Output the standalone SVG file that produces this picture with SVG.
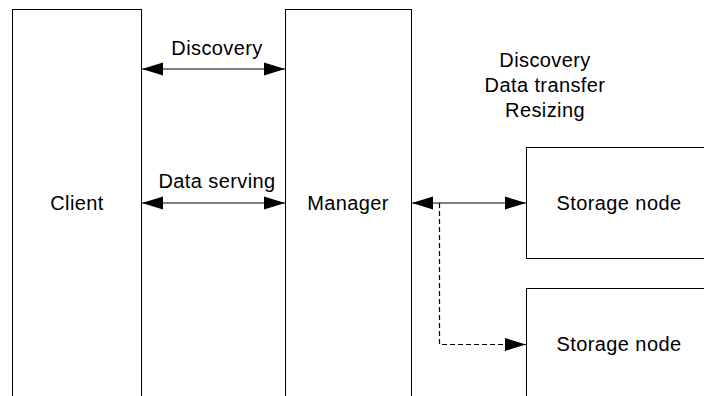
<svg xmlns="http://www.w3.org/2000/svg" width="704" height="396" viewBox="0 0 704 396">
<style>
.box{fill:#fff;stroke:#000;stroke-width:1}
.lbl{font-family:"Liberation Sans",Arial,sans-serif;font-size:20px;letter-spacing:0.4px;fill:#000;text-anchor:middle}
.ln{fill:none;stroke:#000;stroke-width:1.2}
.dash{fill:none;stroke:#000;stroke-width:1.2;stroke-dasharray:5,3}
</style>
<defs>
<marker id="ah" markerUnits="userSpaceOnUse" markerWidth="22" markerHeight="14" viewBox="0 0 22 14" refX="21" refY="7" orient="auto-start-reverse">
<path d="M0,0.5 L21,7 L0,13.5 Z" fill="#000"/>
</marker>
</defs>
<g id="client">
<rect class="box" x="12.5" y="9.5" width="129" height="400"/>
<text class="lbl" x="77" y="210">Client</text>
</g>
<g id="manager">
<rect class="box" x="285.5" y="9.5" width="126" height="400"/>
<text class="lbl" x="348" y="210">Manager</text>
</g>
<g id="storage1">
<rect class="box" x="526.5" y="147.5" width="200" height="111"/>
<text class="lbl" x="619" y="210">Storage node</text>
</g>
<g id="storage2">
<rect class="box" x="526.5" y="288.5" width="200" height="130"/>
<text class="lbl" x="619" y="351">Storage node</text>
</g>
<g id="connectors">
<line class="ln" x1="142" y1="69" x2="285" y2="69" marker-start="url(#ah)" marker-end="url(#ah)"/>
<line class="ln" x1="142" y1="203" x2="285" y2="203" marker-start="url(#ah)" marker-end="url(#ah)"/>
<line class="ln" x1="412" y1="203" x2="526" y2="203" marker-start="url(#ah)" marker-end="url(#ah)"/>
<path class="dash" d="M439.5,203 L439.5,344.5 L526,344.5" marker-end="url(#ah)"/>
<text class="lbl" x="217" y="55">Discovery</text>
<text class="lbl" x="217" y="188">Data serving</text>
<text class="lbl" x="545" y="67">Discovery</text>
<text class="lbl" x="545" y="92">Data transfer</text>
<text class="lbl" x="545" y="117">Resizing</text>
</g>
</svg>
